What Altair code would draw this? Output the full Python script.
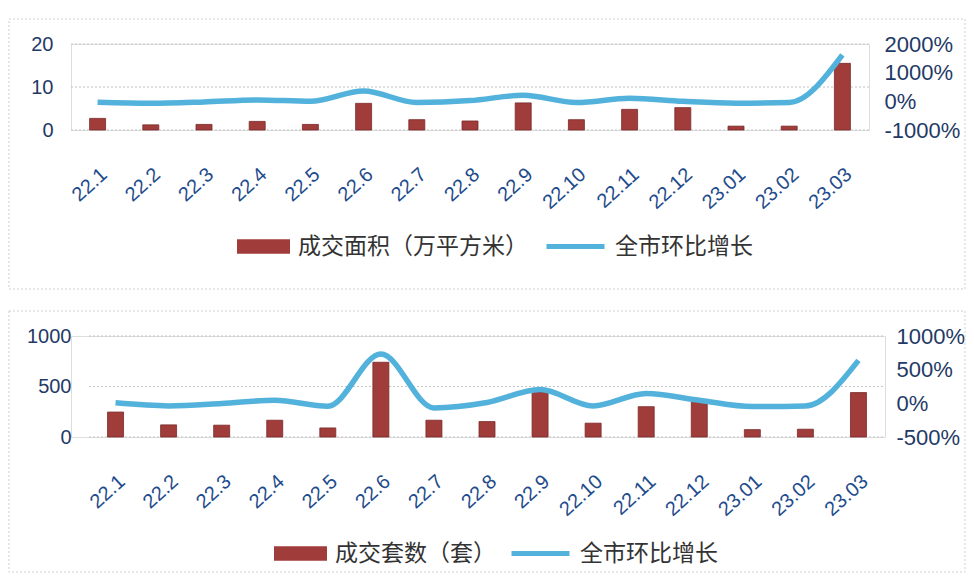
import altair as alt
import pandas as pd

months = ["22.1", "22.2", "22.3", "22.4", "22.5", "22.6", "22.7", "22.8",
          "22.9", "22.10", "22.11", "22.12", "23.01", "23.02", "23.03"]

# top panel: transaction area (10k m2) and month-on-month growth (%)
area = [2.7, 1.2, 1.3, 2.0, 1.3, 6.2, 2.4, 2.1, 6.3, 2.4, 4.8, 5.2, 0.9, 0.9, 15.5]
area_mom = [-30, -65, -20, 50, 0, 360, -40, 25, 210, -40, 105, 0, -65, -40, 1620]

# bottom panel: transaction units and month-on-month growth (%)
units = [247, 120, 117, 166, 90, 740, 166, 153, 447, 137, 300, 344, 73, 77, 440]
units_mom = [7, -38, -3, 46, -43, 732, -68, 12, 205, -38, 146, 46, -48, -38, 638]

bar_label_top = "成交面积（万平方米）"
bar_label_bot = "成交套数（套）"
line_label = "全市环比增长"

left_ticks_top = [0, 10, 20]
right_ticks_top = [-1000, 0, 1000, 2000]
left_ticks_bot = [0, 500, 1000]
right_ticks_bot = [-500, 0, 500, 1000]

BAR = "#A03D3B"
LINE = "#52B2DB"
AXC = "#1F3A66"
XLC = "#1E4B8C"
FONT = "Liberation Sans"
CJK = "Noto Sans CJK SC"


def panel(vals, moms, bar_label, lt, rt, W, H, x0, x1, lpad, rpad, leg, frame):
    df = pd.DataFrame({"month": months, "v": vals, "m": moms,
                       "bs": bar_label, "ls": line_label})
    xenc = alt.X("month:N", sort=months, title=None,
                 scale=alt.Scale(range=[x0, x1]),
                 axis=alt.Axis(labelAngle=-42, labelPadding=34, labelFontSize=20,
                               labelColor=XLC, labelFont=FONT, domain=False,
                               ticks=False, grid=False))
    base = alt.Chart(df).encode(x=xenc)
    ydom = alt.Scale(domain=[lt[0], lt[-1]], nice=False)
    grid = alt.Chart(pd.DataFrame({"g": lt})).mark_rule(
        color="#C4C4C4", strokeDash=[2, 2], strokeWidth=1
    ).encode(y=alt.Y("g:Q", scale=ydom, axis=None),
             x=alt.value(x0), x2=alt.value(x1))
    bars = base.mark_bar(size=16, stroke="#7A2828", strokeWidth=0.8).encode(
        y=alt.Y("v:Q", title=None, scale=ydom,
                axis=alt.Axis(values=lt, domain=False, ticks=False, labelFontSize=20,
                              labelColor=AXC, labelFont=FONT, labelPadding=lpad,
                              format="d", grid=False)),
        color=alt.Color("bs:N", scale=alt.Scale(domain=[bar_label], range=[BAR]),
                        legend=alt.Legend(orient="none", legendX=leg[0], legendY=leg[1],
                                          title=None, symbolType="M-1,-0.27H1V0.27H-1Z",
                                          symbolSize=2809, symbolStrokeWidth=0,
                                          labelFont=CJK, labelFontSize=23,
                                          labelColor="#333333", labelOffset=8,
                                          labelLimit=0, padding=0)),
    )
    line = base.mark_line(interpolate="monotone", strokeWidth=5.5).encode(
        y=alt.Y("m:Q", title=None, scale=alt.Scale(domain=[rt[0], rt[-1]], nice=False),
                axis=alt.Axis(orient="right", values=rt, domain=False, ticks=False,
                              grid=False, labelFontSize=22, labelColor=AXC,
                              labelFont=FONT, labelPadding=rpad,
                              labelExpr="datum.value + '%'")),
        stroke=alt.Stroke("ls:N", scale=alt.Scale(domain=[line_label], range=[LINE]),
                          legend=alt.Legend(orient="none", legendX=leg[2], legendY=leg[3],
                                            title=None, symbolType="stroke",
                                            symbolSize=3364, symbolStrokeWidth=5,
                                            labelFont=CJK, labelFontSize=23,
                                            labelColor="#333333", labelOffset=8,
                                            labelLimit=0, padding=0)),
    )
    fr = alt.Chart(pd.DataFrame({"k": [0]})).mark_rect(
        fill=None, stroke="#CFCFCF", strokeDash=[2, 2], strokeWidth=1
    ).encode(x=alt.value(frame[0]), x2=alt.value(frame[1]),
             y=alt.value(frame[2]), y2=alt.value(frame[3]))
    return alt.layer(fr, grid, bars, line).resolve_scale(
        y="independent", color="independent", stroke="independent"
    ).properties(width=W, height=H)


# both panels share origin x=70 on the page; bottom one is drawn 18px further right
top = panel(area, area_mom, bar_label_top, left_ticks_top, right_ticks_top,
            798, 86, 0, 798, 18, 15,
            (166, 176, 473, 171), (-62, 894, -25, 245))
bot = panel(units, units_mom, bar_label_bot, left_ticks_bot, right_ticks_bot,
            814, 101, 18, 814, 0, 11,
            (203, 191, 438, 186), (-62, 894, -25, 236))

chart = alt.concat(top, bot, columns=1, spacing=20).resolve_scale(
    color="independent", stroke="independent"
).properties(
    padding={"left": 0, "top": 10, "right": 0, "bottom": 0}
).configure_view(stroke=None).configure(background="white")

chart.save("out.html", embed_options={"renderer": "svg", "actions": False})
